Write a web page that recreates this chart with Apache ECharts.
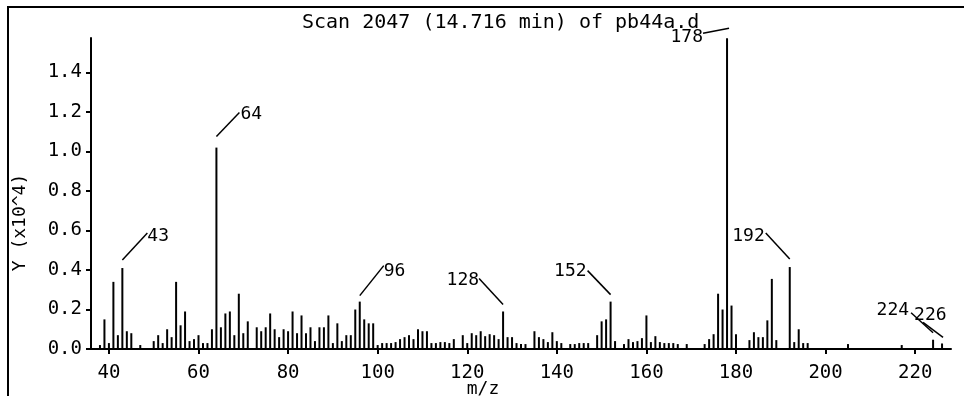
<!DOCTYPE html>
<html>
<head>
<meta charset="utf-8">
<title>Scan 2047</title>
<script src="https://cdn.jsdelivr.net/npm/echarts@6.0.0/dist/echarts.min.js"></script>
<style>
	html, body { margin: 0; padding: 0; background: #fff; }
	#spectrum { width: 964px; height: 396px; }
</style>
</head>
<body>
<div id="spectrum"></div>
<script>
// m/z of each line and its height (x10^4)
var mzs = [
	38, 39, 40, 41, 42, 43, 44, 45, 47, 50, 51, 52, 53, 54, 55, 56, 57, 58, 59, 60,
	61, 62, 63, 64, 65, 66, 67, 68, 69, 70, 71, 73, 74, 75, 76, 77, 78, 79, 80, 81,
	82, 83, 84, 85, 86, 87, 88, 89, 90, 91, 92, 93, 94, 95, 96, 97, 98, 99, 100, 101,
	102, 103, 104, 105, 106, 107, 108, 109, 110, 111, 112, 113, 114, 115, 116, 117, 119, 120, 121, 122,
	123, 124, 125, 126, 127, 128, 129, 130, 131, 132, 133, 135, 136, 137, 138, 139, 140, 141, 143, 144,
	145, 146, 147, 149, 150, 151, 152, 153, 155, 156, 157, 158, 159, 160, 161, 162, 163, 164, 165, 166,
	167, 169, 173, 174, 175, 176, 177, 178, 179, 180, 183, 184, 185, 186, 187, 188, 189, 192, 193, 194,
	195, 196, 205, 217, 224, 226
];
var intensities = [
	0.02, 0.15, 0.03, 0.34, 0.07, 0.41, 0.09, 0.08, 0.02, 0.04, 0.07, 0.03, 0.10, 0.06, 0.34, 0.12, 0.19, 0.04, 0.05, 0.07,
	0.03, 0.03, 0.10, 1.02, 0.11, 0.18, 0.19, 0.07, 0.28, 0.08, 0.14, 0.11, 0.09, 0.11, 0.18, 0.10, 0.06, 0.10, 0.09, 0.19,
	0.08, 0.17, 0.08, 0.11, 0.04, 0.11, 0.11, 0.17, 0.03, 0.13, 0.04, 0.07, 0.07, 0.20, 0.24, 0.15, 0.13, 0.13, 0.02, 0.03,
	0.03, 0.03, 0.035, 0.05, 0.06, 0.07, 0.05, 0.10, 0.09, 0.09, 0.03, 0.03, 0.035, 0.035, 0.03, 0.05, 0.07, 0.03, 0.08, 0.07,
	0.09, 0.065, 0.075, 0.07, 0.05, 0.19, 0.06, 0.06, 0.03, 0.025, 0.025, 0.09, 0.06, 0.05, 0.035, 0.085, 0.04, 0.03, 0.025, 0.025,
	0.03, 0.03, 0.03, 0.07, 0.14, 0.15, 0.24, 0.04, 0.025, 0.05, 0.035, 0.04, 0.055, 0.17, 0.035, 0.065, 0.035, 0.03, 0.03, 0.03,
	0.025, 0.025, 0.025, 0.05, 0.075, 0.28, 0.20, 1.574, 0.22, 0.075, 0.045, 0.085, 0.06, 0.06, 0.145, 0.355, 0.045, 0.415, 0.035, 0.10,
	0.03, 0.03, 0.025, 0.02, 0.047, 0.028
];
var labelledPeaks = [43, 64, 96, 128, 152, 178, 192, 224, 226];

var xTicks = [40, 60, 80, 100, 120, 140, 160, 180, 200, 220];
var yTicks = [0, 0.2, 0.4, 0.6, 0.8, 1.0, 1.2, 1.4];

var titleText = 'Scan 2047 (14.716 min) of pb44a.d';

// leader line placement for each labelled peak, in pixels from the top of its line:
// [startDx, startDy, endDx, endDy, align, textDx, textDy]
var leader = {
	43: [0, -8, 25, -35, 'left', 0, 3],
	64: [0, -11, 23, -35, 'left', 1, 2],
	96: [0, -6, 24, -36, 'left', 0, 6],
	128: [0, -7, -24, -33, 'right', 0, 2],
	152: [0, -7, -23, -31, 'right', -1, 1],
	178: [2, -10, -24, -5, 'right', 0, 4],
	192: [0, -8, -24, -34, 'right', -1, 3],
	224: [0, -7, -22, -27, 'right', -2, -2],
	226: [1, -6, -19, -21, 'left', -9, -7]
};

var font = '"DejaVu Sans Mono", "Liberation Mono", monospace';

var barData = mzs.map(function(m, i){
	return [m, intensities[i]];
});
var peakData = labelledPeaks.map(function(m){
	return [m, intensities[mzs.indexOf(m)]];
});

var chart = echarts.init(document.getElementById('spectrum'), null, {renderer: 'canvas'});

chart.setOption({
	animation: false,
	backgroundColor: '#fff',
	title: {
		text: titleText,
		left: 297,
		top: 8,
		textStyle: {
			fontFamily: font,
			fontSize: 20,
			fontWeight: 'normal',
			color: '#000'
		}
	},
	grid: {
		left: 91,
		right: 13,
		top: 38,
		bottom: 47,
		outerBoundsMode: 'none'
	},
	graphic: [{
		type: 'rect',
		shape: {x: 8, y: 7, width: 1000, height: 420},
		style: {fill: null, stroke: '#000', lineWidth: 2}
	}],
	xAxis: {
		type: 'value',
		min: 36,
		max: 228,
		offset: 6,
		name: 'm/z',
		nameLocation: 'middle',
		nameGap: 25,
		nameMoveOverlap: false,
		nameTextStyle: {
			fontFamily: font,
			fontSize: 18,
			color: '#000',
			padding: [0, 76, 0, 0]
		},
		axisLine: {lineStyle: {color: '#000', width: 2}},
		axisTick: {
			customValues: xTicks,
			length: 5,
			lineStyle: {color: '#000', width: 2}
		},
		axisLabel: {
			customValues: xTicks,
			margin: 9,
			fontFamily: font,
			fontSize: 19,
			color: '#000'
		},
		splitLine: {show: false}
	},
	yAxis: {
		type: 'value',
		min: 0,
		max: 1.575,
		name: 'Y (x10^4)',
		nameLocation: 'middle',
		nameGap: 62,
		nameMoveOverlap: false,
		nameTextStyle: {
			fontFamily: font,
			fontSize: 18,
			color: '#000',
			padding: [0, 58, 0, 0]
		},
		axisLine: {show: true, lineStyle: {color: '#000', width: 2}},
		axisTick: {
			show: true,
			customValues: yTicks,
			length: 5,
			lineStyle: {color: '#000', width: 2}
		},
		axisLabel: {
			customValues: yTicks,
			margin: 9,
			fontFamily: font,
			fontSize: 19,
			color: '#000',
			formatter: function(v){
				return v.toFixed(1);
			}
		},
		splitLine: {show: false}
	},
	series: [{
		type: 'bar',
		data: barData,
		barWidth: 2,
		itemStyle: {color: '#000'}
	}, {
		type: 'custom',
		data: peakData,
		encode: {x: 0, y: 1},
		renderItem: function(params, api){
			var m = api.value(0);
			var p = api.coord([m, api.value(1)]);
			var L = leader[m];
			return {
				type: 'group',
				children: [{
					type: 'line',
					shape: {
						x1: p[0] + L[0], y1: p[1] + L[1],
						x2: p[0] + L[2], y2: p[1] + L[3]
					},
					style: {stroke: '#000', lineWidth: 1.5}
				}, {
					type: 'text',
					x: p[0] + L[2] + L[5],
					y: p[1] + L[3] + L[6],
					style: {
						text: String(m),
						font: '18px ' + font,
						fill: '#000',
						align: L[4],
						verticalAlign: 'middle'
					}
				}]
			};
		}
	}]
});

window.onresize = function(){
	chart.resize();
}
</script>
</body>
</html>
